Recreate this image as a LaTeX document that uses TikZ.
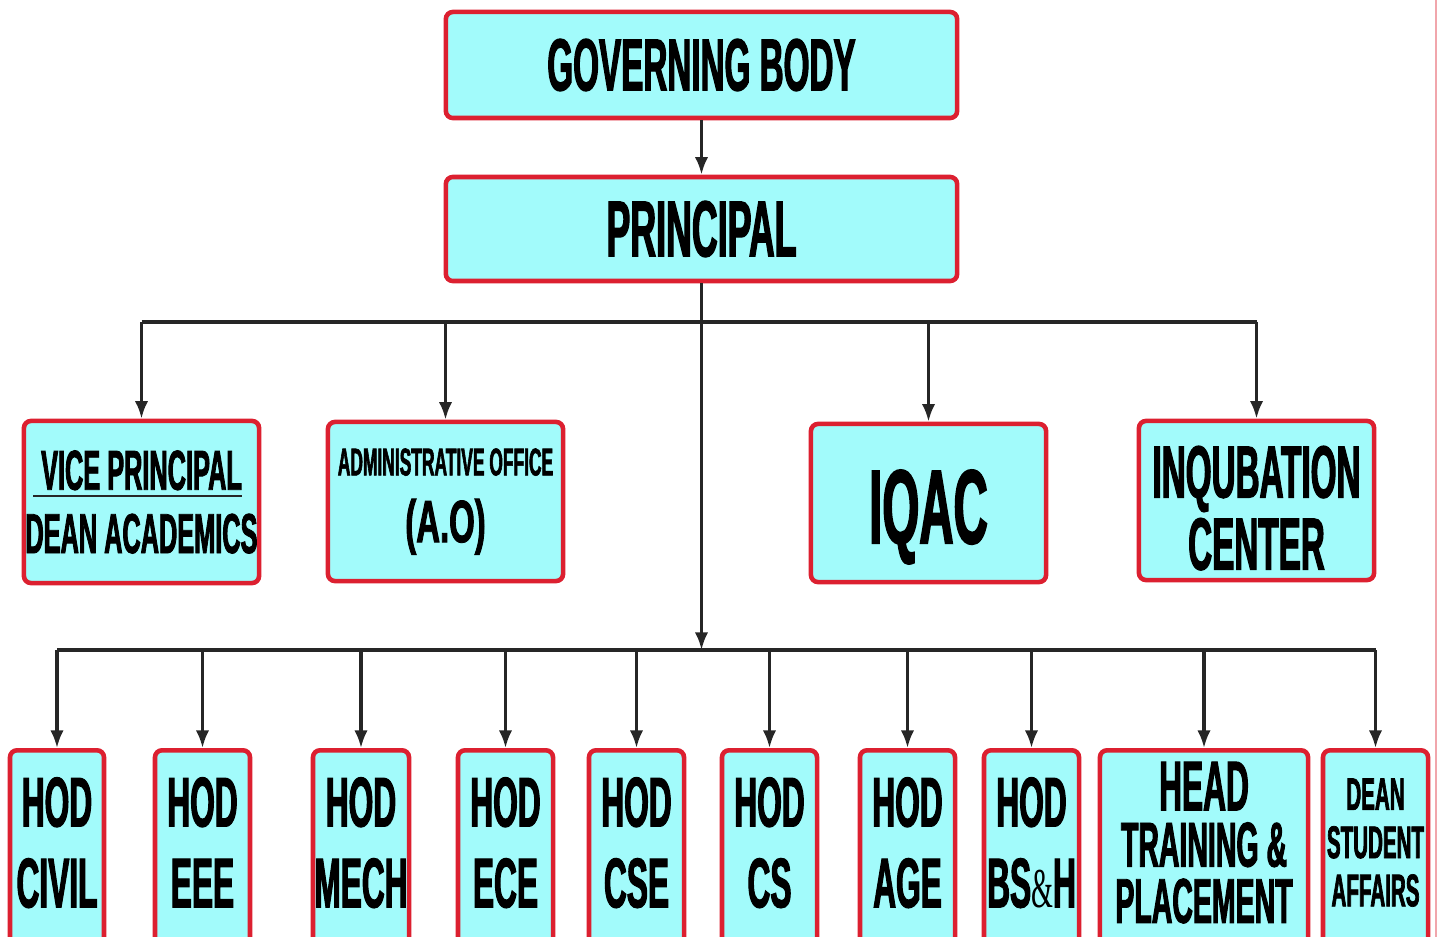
\documentclass[tikz,border=0pt]{standalone}
\usepackage{fontspec}
\newfontfamily\orgfont{Liberation Sans}[FakeStretch=0.45,FakeBold=1.5]
\newfontfamily\orgwide{Liberation Sans}[FakeStretch=0.55,FakeBold=1.5]
\newfontfamily\ampfont{Liberation Serif}[FakeStretch=0.5]
\usetikzlibrary{arrows.meta}
\definecolor{boxfill}{HTML}{A2FBFB}
\definecolor{boxline}{HTML}{DC2030}
\newcommand{\fs}[2]{\fontsize{#1}{#2}\selectfont}
\tikzset{
	orgbox/.style={draw=boxline, fill=boxfill, line width=1.3pt, rounded corners=2pt,
		inner sep=0pt, align=center},
	sz/.style 2 args={font=\orgfont\bfseries\fs{#1}{#2}},
	hodbox/.style={orgbox, anchor=north, minimum height=2cm, text depth=0.16cm},
	link/.style={line width=0.9pt, black!85},
	arr/.style={link, -{Latex[length=5pt,width=3.8pt]}},
}
\begin{document}
\begin{tikzpicture}[x=0.01cm, y=-0.01cm]
		\useasboundingbox (0,0) rectangle (1437,937);
		\clip (0,0) rectangle (1437,937);
		\coordinate (topbus) at (695,322);
		\coordinate (botbus) at (695,650);
		
		% top of the chart
		\node[orgbox, sz={21}{24}, minimum width=5.11cm, minimum height=1.06cm] (gb) at (701.5,65) {GOVERNING BODY};
		\node[orgbox, sz={22.6}{26}, minimum width=5.11cm, minimum height=1.04cm] (prin) at (701.5,229) {PRINCIPAL};
		
		% middle row
		\node[orgbox, sz={16}{18}, minimum width=2.35cm, minimum height=1.62cm] (vp) at (141.5,502) {VICE PRINCIPAL\\DEAN ACADEMICS};
		\draw[black!85, line width=0.5pt] (33,496) -- (242,496);
		\node[orgbox, sz={11}{13}, minimum width=2.35cm, minimum height=1.59cm] (ao) at (445.5,501.5) {ADMINISTRATIVE OFFICE\\[6pt]\orgwide\bfseries\fs{17}{19}(A.O)};
		\node[orgbox, sz={30}{32}, minimum width=2.35cm, minimum height=1.58cm, text height=28.9pt] (iqac) at (928.5,503) {IQAC};
		\node[orgbox, sz={21}{20.5}, minimum width=2.35cm, minimum height=1.59cm, text height=39.5pt] (inq) at (1256.5,500.5) {INQUBATION\\CENTER};
		
		% bottom row
		\node[hodbox, sz={20}{23}, minimum width=0.94cm] (civil) at (57,748) {HOD\\CIVIL};
		\node[hodbox, sz={20}{23}, minimum width=0.95cm] (eee) at (202.5,748) {HOD\\EEE};
		\node[hodbox, sz={20}{23}, minimum width=0.96cm] (mech) at (361,748) {HOD\\MECH};
		\node[hodbox, sz={20}{23}, minimum width=0.95cm] (ece) at (505.5,748) {HOD\\ECE};
		\node[hodbox, sz={20}{23}, minimum width=0.95cm] (cse) at (636.5,748) {HOD\\CSE};
		\node[hodbox, sz={20}{23}, minimum width=0.95cm] (cs) at (769.5,748) {HOD\\CS};
		\node[hodbox, sz={20}{23}, minimum width=0.95cm] (age) at (907.5,748) {HOD\\AGE};
		\node[hodbox, sz={20}{23}, minimum width=0.95cm] (bsh) at (1031.5,748) {HOD\\BS{\ampfont\mdseries\fs{16}{16}\&}H};
		\node[hodbox, sz={18}{16}, minimum width=2.08cm] (htp) at (1204,748) {\fs{20}{16}HEAD\\TRAINING \&\\PLACEMENT};
		\node[hodbox, sz={13}{13.7}, minimum width=1.05cm] (dsa) at (1375.5,748) {DEAN\\STUDENT\\AFFAIRS};
		
		% connectors
		\draw[arr] (gb.south) -- (prin.north);
		\draw[link] (prin.south) -- (prin.south |- topbus);
		\draw[arr] (prin.south |- topbus) -- (prin.south |- botbus);
		\draw[link] (vp.north |- topbus) -- (inq.north |- topbus);
		\foreach \n in {vp,ao,iqac,inq}
			\draw[arr] (\n.north |- topbus) -- (\n.north);
		\draw[link] (civil.north |- botbus) -- (dsa.north |- botbus);
		\foreach \n in {civil,eee,mech,ece,cse,cs,age,bsh,htp,dsa}
			\draw[arr] (\n.north |- botbus) -- (\n.north);
		
		\draw[boxline!40, line width=0.4pt] (1436,0) -- (1436,937);
\end{tikzpicture}
\end{document}
